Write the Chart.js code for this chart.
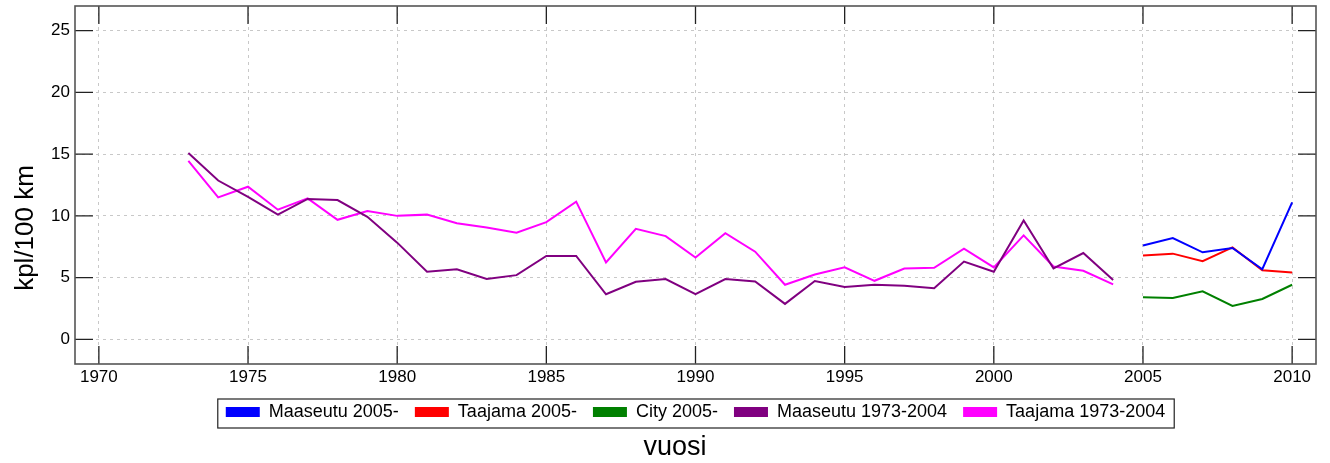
<!DOCTYPE html>
<html lang="fi">
<head>
<meta charset="UTF-8">
<title>kpl/100 km</title>
<script src="https://cdn.jsdelivr.net/npm/chart.js"></script>
<style>
  body { margin: 0; background: #fff; }
  canvas { display: block; }
</style>
</head>
<body>
<canvas id="myChart" width="1330" height="463"></canvas>
<script>
// vuodet
const years1973 = [1973, 1974, 1975, 1976, 1977, 1978, 1979, 1980, 1981, 1982, 1983, 1984, 1985, 1986, 1987, 1988,
                   1989, 1990, 1991, 1992, 1993, 1994, 1995, 1996, 1997, 1998, 1999, 2000, 2001, 2002, 2003, 2004];
const years2005 = [2005, 2006, 2007, 2008, 2009, 2010];

// sarjat (luettu kuvasta)
const maaseutu2005 = [7.6, 8.2, 7.05, 7.4, 5.68, 11.1];
const taajama2005 = [6.78, 6.94, 6.33, 7.45, 5.6, 5.42];
const city2005 = [3.41, 3.35, 3.89, 2.71, 3.27, 4.42];
const maaseutu1973 = [15.1, 12.86, 11.53, 10.1, 11.37, 11.28, 9.92, 7.83, 5.47, 5.68, 4.88, 5.2, 6.75, 6.75, 3.65, 4.66,
                      4.88, 3.65, 4.88, 4.69, 2.87, 4.72, 4.24, 4.42, 4.34, 4.13, 6.3, 5.47, 9.62, 5.74, 6.99, 4.8];
const taajama1973 = [14.45, 11.5, 12.36, 10.5, 11.42, 9.68, 10.4, 10.0, 10.1, 9.4, 9.06, 8.63, 9.49, 11.15, 6.22, 8.95,
                     8.36, 6.62, 8.6, 7.1, 4.42, 5.25, 5.84, 4.74, 5.74, 5.79, 7.35, 5.82, 8.42, 5.9, 5.55, 4.45];

// akselit
const xTicks = [1970, 1975, 1980, 1985, 1990, 1995, 2000, 2005, 2010];
const yTicks = [0, 5, 10, 15, 20, 25];
const xTitle = 'vuosi';
const yTitle = 'kpl/100 km';

const FONT = "'Liberation Sans', Arial, sans-serif";

function points(xs, ys) {
    return xs.map((x, i) => ({ x: x, y: ys[i] }));
}

function series(label, color, xs, ys) {
    return {
        label: label,
        data: points(xs, ys),
        borderColor: color,
        backgroundColor: color,
        borderWidth: 2,
        pointRadius: 0,
        tension: 0
    };
}

const TICK = 18;

// inward ticks, plot frame, legend box and axis titles
const frameAndTicks = {
    id: 'frameAndTicks',
    afterDraw(chart) {
        const { ctx, chartArea: a, scales: { x, y } } = chart;
        ctx.save();
        ctx.strokeStyle = '#222';
        ctx.lineWidth = 1.3;
        ctx.beginPath();
        xTicks.forEach(v => {
            const px = x.getPixelForValue(v);
            ctx.moveTo(px, a.top); ctx.lineTo(px, a.top + TICK);
            ctx.moveTo(px, a.bottom); ctx.lineTo(px, a.bottom - TICK);
        });
        yTicks.forEach(v => {
            const py = y.getPixelForValue(v);
            ctx.moveTo(a.left, py); ctx.lineTo(a.left + TICK, py);
            ctx.moveTo(a.right, py); ctx.lineTo(a.right - TICK, py);
        });
        ctx.stroke();

        ctx.strokeStyle = '#555';
        ctx.lineWidth = 1.6;
        ctx.strokeRect(a.left, a.top, a.width, a.height);

        const hb = chart.legend.legendHitBoxes;
        if (hb && hb.length) {
            const l = Math.min(...hb.map(h => h.left)) - 8;
            const r = Math.max(...hb.map(h => h.left + h.width)) + 9;
            const t = hb[0].top - 4;
            const b = hb[0].top + hb[0].height + 7;
            ctx.strokeStyle = '#222';
            ctx.lineWidth = 1.2;
            ctx.strokeRect(l, t, r - l, b - t);
        }

        // axis titles
        ctx.fillStyle = '#000';
        ctx.font = '26px ' + FONT;
        ctx.textAlign = 'center';
        ctx.textBaseline = 'alphabetic';
        ctx.save();
        ctx.translate(33, 228);
        ctx.rotate(-Math.PI / 2);
        ctx.fillText(yTitle, 0, 0);
        ctx.restore();

        ctx.font = '27px ' + FONT;
        ctx.fillText(xTitle, 675, 455);
        ctx.restore();
    }
};

Chart.defaults.font.family = FONT;
Chart.defaults.color = '#000';

const ctx = document.getElementById('myChart').getContext('2d');
new Chart(ctx, {
    type: 'line',
    data: {
        datasets: [
            series('Maaseutu 2005-', '#0000ff', years2005, maaseutu2005),
            series('Taajama 2005-', '#ff0000', years2005, taajama2005),
            series('City 2005-', '#008000', years2005, city2005),
            series('Maaseutu 1973-2004', '#800080', years1973, maaseutu1973),
            series('Taajama 1973-2004', '#ff00ff', years1973, taajama1973)
        ]
    },
    options: {
        responsive: false,
        devicePixelRatio: 1,
        animation: false,
        layout: { padding: { top: 6, right: 14, bottom: 32, left: 0 } },
        scales: {
            x: {
                type: 'linear',
                min: 1969.2,
                max: 2010.8,
                afterBuildTicks: s => { s.ticks = xTicks.map(v => ({ value: v })); },
                afterFit: s => { s.height = 23; },
                ticks: { font: { size: 17 }, padding: 3, maxRotation: 0, callback: v => String(v) },
                grid: { color: '#c8c8c8', lineWidth: 1, drawTicks: false },
                border: { display: false, dash: [3, 4] }
            },
            y: {
                type: 'linear',
                min: -2,
                max: 27,
                afterBuildTicks: s => { s.ticks = yTicks.map(v => ({ value: v })); },
                afterFit: s => { s.width = 75; s.paddingTop = 0; s.paddingBottom = 0; },
                ticks: { font: { size: 17 }, padding: 5 },
                grid: { color: '#c8c8c8', lineWidth: 1, drawTicks: false },
                border: { display: false, dash: [3, 4] }
            }
        },
        plugins: {
            legend: {
                position: 'bottom',
                fullSize: false,
                labels: {
                    font: { size: 18 },
                    boxWidth: 34,
                    boxHeight: 10,
                    padding: 16,
                    generateLabels(chart) {
                        const items = Chart.defaults.plugins.legend.labels.generateLabels(chart);
                        items.forEach(it => { it.lineWidth = 0; });
                        return items;
                    }
                }
            },
            title: { display: false },
            tooltip: { enabled: false }
        }
    },
    plugins: [frameAndTicks]
});
</script>
</body>
</html>
